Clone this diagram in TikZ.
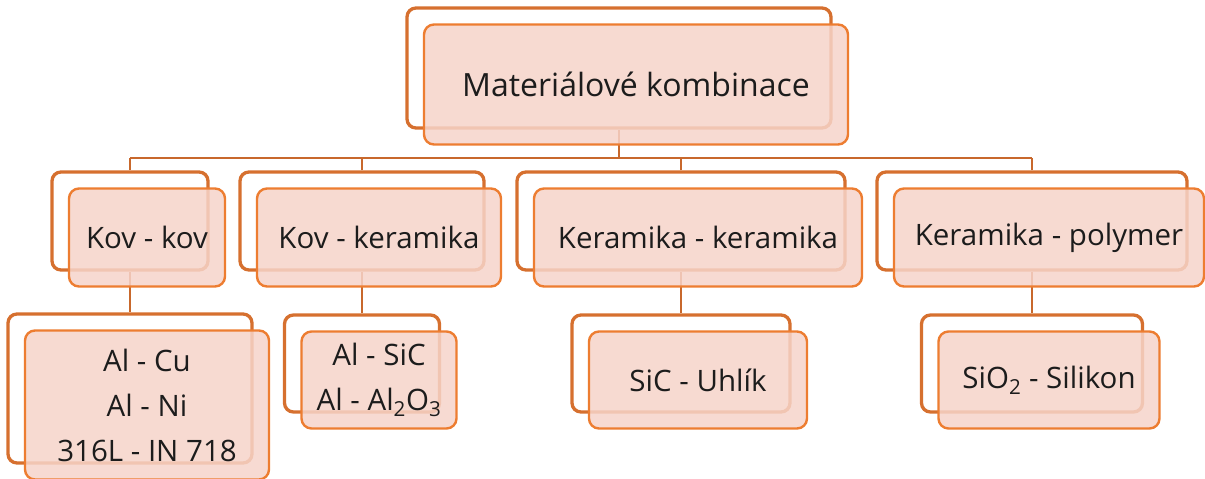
\documentclass[tikz,border=0pt]{standalone}
\usepackage{fontspec}
\setmainfont{Open Sans}
\usetikzlibrary{calc}
\pgfdeclarelayer{background}
\pgfsetlayers{background,main}

\definecolor{frameline}{RGB}{214,112,47}
\definecolor{boxline}{RGB}{237,125,49}
\definecolor{boxfill}{RGB}{246,212,202}
\definecolor{linkline}{RGB}{200,104,44}
\definecolor{ink}{RGB}{28,28,28}

\tikzset{
  framebox/.style={draw=frameline, line width=3.3pt, fill=white,
    rounded corners=9pt, inner sep=0pt},
  cardbox/.style={draw=boxline, line width=2.4pt, fill=boxfill, fill opacity=0.85,
    text opacity=1, rounded corners=10pt, inner sep=0pt, align=center,
    text=ink, font=\fontsize{29.5}{45}\selectfont},
  rootcard/.style={cardbox, font=\fontsize{32}{45}\selectfont},
  link/.style={draw=linkline, line width=2pt},
}

% #1 name, #2 #3 centre of the back frame, #4 #5 size, #6 style, #7 text
\newcommand\stackedbox[7]{%
  \node[framebox, minimum width=#4pt, minimum height=#5pt] (#1-b) at (#2,#3) {};
  \node[#6, minimum width=#4pt, minimum height=#5pt] (#1) at ({#2+17},{#3+16.5}) {#7};
}

\begin{document}
\begin{tikzpicture}[x=1pt,y=-1pt]
\useasboundingbox (0,0) rectangle (1205,479);

% top level
\stackedbox{root}{619}{68}{424}{120}{rootcard}{Materiálové kombinace}

% second level
\stackedbox{kovkov}{130}{221}{156}{98}{cardbox}{Kov - kov}
\stackedbox{kovker}{362}{221}{244}{98}{cardbox}{Kov - keramika}
\stackedbox{kerker}{681}{221}{328}{98}{cardbox}{Keramika - keramika}
\stackedbox{kerpol}{1032}{221}{310}{98}{cardbox}{Keramika - polymer}

% third level
\stackedbox{alcu}{130}{388.5}{244}{149}{cardbox}{Al - Cu\\Al - Ni\\316L - IN 718}
\stackedbox{alsic}{362}{363.5}{155}{97}{cardbox}{Al - SiC\\Al - Al\textsubscript{2}O\textsubscript{3}}
\stackedbox{sicc}{681}{363.5}{218}{97}{cardbox}{SiC - Uhlík}
\stackedbox{siosil}{1032}{363.5}{221}{97}{cardbox}{SiO\textsubscript{2} - Silikon}

% connectors
\coordinate (bus) at (0,158);
\begin{pgfonlayer}{background}
  \draw[link] (root-b.south) -- (root-b.south |- bus);
  \draw[link] (kovkov-b.north |- bus) -- (kerpol-b.north |- bus);
  \foreach \n in {kovkov,kovker,kerker,kerpol}
    \draw[link] (\n-b.north) -- (\n-b.north |- bus);
  \draw[link] (kovkov-b.south) -- (alcu-b.north);
  \draw[link] (kovker-b.south) -- (alsic-b.north);
  \draw[link] (kerker-b.south) -- (sicc-b.north);
  \draw[link] (kerpol-b.south) -- (siosil-b.north);
\end{pgfonlayer}
\end{tikzpicture}
\end{document}
